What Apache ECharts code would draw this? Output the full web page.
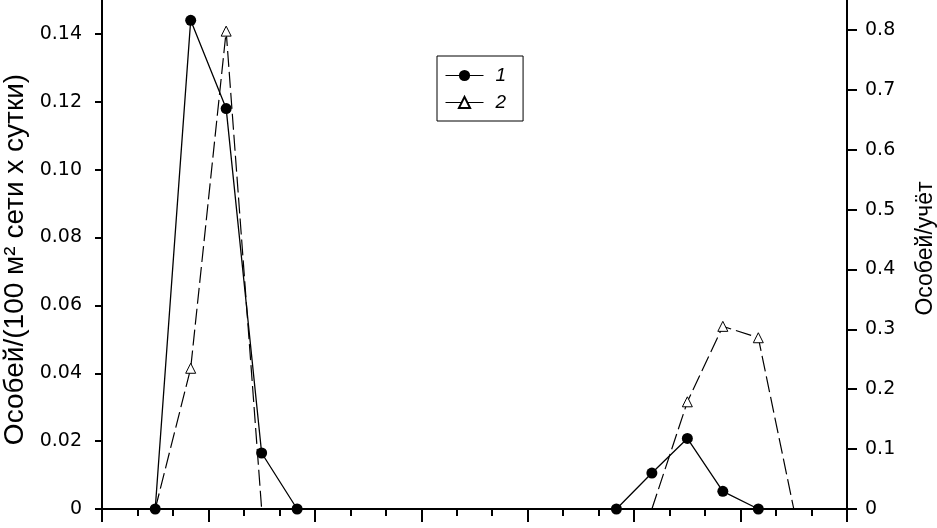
<!DOCTYPE html>
<html>
<head>
<meta charset="utf-8">
<script src="https://cdn.jsdelivr.net/npm/echarts@6/dist/echarts.min.js"></script>
<style>
  html, body { margin: 0; padding: 0; background: #fff; }
  #main { width: 937px; height: 528px; }
</style>
</head>
<body>
<div id="main"></div>
<script>
// 21 sampling periods along the x axis (labels are cut off in the source)
const categories = ['1', '2', '3', '4', '5', '6', '7', '8', '9', '10', '11',
    '12', '13', '14', '15', '16', '17', '18', '19', '20', '21'];

// series 1: individuals / (100 m2 net x day), left axis
const series1 = [null, 0, 0.144, 0.118, 0.0165, 0, null, null, null, null, null,
    null, null, null, 0, 0.0106, 0.0208, 0.0052, 0, null, null];

// series 2: individuals / count, right axis
const series2 = [null, 0, 0.235, 0.798, 0, null, null, null, null, null, null,
    null, null, null, null, 0, 0.179, 0.305, 0.286, 0, null];

const leftTicks = { min: 0, max: 0.15, interval: 0.02 };
const rightTicks = { min: 0, max: 0.85, interval: 0.1 };

const tickFont = 'DejaVu Sans';
const titleFont = 'Liberation Sans';

var chartDom = document.getElementById('main');
var myChart = echarts.init(chartDom, null, { renderer: 'canvas' });

// triangles sitting on the zero line are not drawn in the source
const series2Data = series2.map(v => (v === 0 ? { value: 0, symbol: 'none' } : v));

const tickStyle = { width: 2, color: '#000' };

var option = {
    animation: false,
    backgroundColor: '#fff',
    grid: { left: 102, right: 90, top: 0, bottom: 19, containLabel: false, outerBoundsMode: 'none' },
    legend: {
        orient: 'vertical',
        left: 437,
        top: 56,
        borderColor: '#000',
        borderWidth: 1,
        padding: [10, 17, 9, 8],
        itemWidth: 38,
        itemHeight: 14,
        itemGap: 8,
        lineStyle: { type: 'solid', width: 1 },
        textStyle: {
            fontFamily: titleFont, fontSize: 19, fontStyle: 'italic', color: '#000',
            padding: [0, 0, 0, 7]
        },
        data: ['1', '2']
    },
    xAxis: [
        {
            type: 'category',
            data: categories,
            boundaryGap: true,
            axisLine: { show: true, onZero: false, lineStyle: { color: '#000', width: 2 } },
            axisTick: { show: true, interval: 0, length: 7, lineStyle: tickStyle },
            axisLabel: { show: false },
            splitLine: { show: false }
        },
        {
            type: 'category',
            data: categories,
            position: 'bottom',
            boundaryGap: true,
            axisLine: { show: false, onZero: false },
            axisTick: { show: true, interval: 2, length: 13, lineStyle: tickStyle },
            axisLabel: { show: false },
            splitLine: { show: false }
        }
    ],
    yAxis: [
        {
            type: 'value',
            position: 'left',
            min: leftTicks.min,
            max: leftTicks.max,
            interval: leftTicks.interval,
            name: 'Особей/(100 м² сети х сутки)',
            nameLocation: 'middle',
            nameRotate: 90,
            nameGap: 73,
            nameTextStyle: { fontFamily: titleFont, fontSize: 28, color: '#000', padding: [0, 10, 0, 0] },
            axisLine: { show: true, lineStyle: { color: '#000', width: 2 } },
            axisTick: { show: true, length: 7, lineStyle: tickStyle },
            axisLabel: {
                margin: 20,
                showMaxLabel: false,
                fontFamily: tickFont,
                fontSize: 19,
                color: '#000',
                formatter: v => (v === 0 ? '0' : v.toFixed(2))
            },
            splitLine: { show: false }
        },
        {
            type: 'value',
            position: 'right',
            min: rightTicks.min,
            max: rightTicks.max,
            interval: rightTicks.interval,
            name: 'Особей/учёт',
            nameLocation: 'middle',
            nameRotate: 90,
            nameGap: 67,
            nameTextStyle: { fontFamily: titleFont, fontSize: 23, color: '#000', padding: [0, 0, 0, 12] },
            axisLine: { show: true, lineStyle: { color: '#000', width: 2 } },
            axisTick: { show: true, length: 10, lineStyle: tickStyle },
            axisLabel: {
                margin: 18,
                showMaxLabel: false,
                fontFamily: tickFont,
                fontSize: 19,
                color: '#000',
                formatter: v => (v === 0 ? '0' : v.toFixed(1))
            },
            splitLine: { show: false }
        }
    ],
    series: [
        {
            name: '1',
            type: 'line',
            xAxisIndex: 0,
            yAxisIndex: 0,
            data: series1,
            symbol: 'circle',
            symbolSize: 11,
            color: '#000',
            itemStyle: { color: '#000' },
            lineStyle: { color: '#000', width: 1.3 },
            z: 3
        },
        {
            name: '2',
            type: 'line',
            xAxisIndex: 0,
            yAxisIndex: 1,
            data: series2Data,
            symbol: 'triangle',
            symbolSize: 10,
            color: '#000',
            itemStyle: { color: '#fff', borderColor: '#000', borderWidth: 1 },
            lineStyle: { color: '#000', width: 1.2, type: [16, 5] },
            z: 2
        }
    ]
};

option && myChart.setOption(option);
</script>
</body>
</html>
